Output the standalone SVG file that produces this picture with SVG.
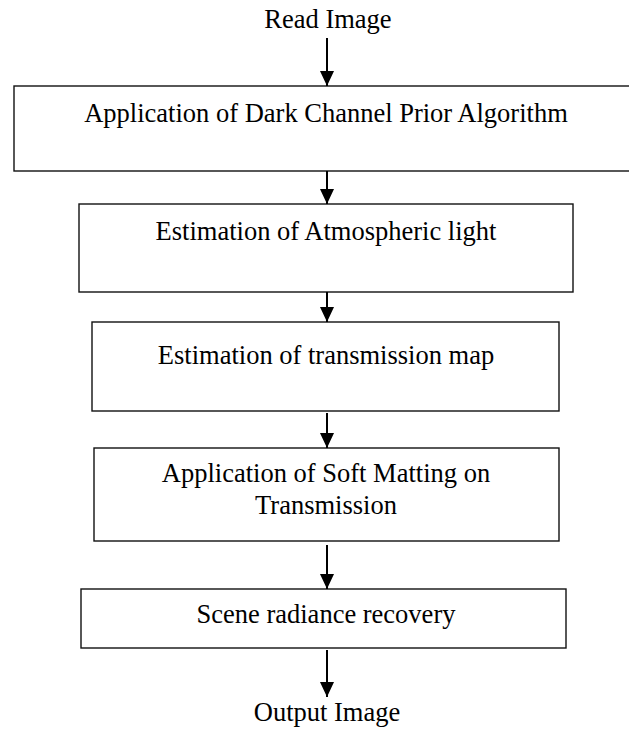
<svg xmlns="http://www.w3.org/2000/svg" width="629" height="729" viewBox="0 0 629 729">
<style>
.box{fill:#fff;stroke:#111;stroke-width:1.4}
.lbl{font-family:"Liberation Serif","Times New Roman",serif;font-size:26.5px;fill:#000;text-anchor:middle}
.con{stroke:#000;stroke-width:2;fill:none}
</style>
<defs>
<marker id="ah" markerUnits="userSpaceOnUse" markerWidth="16" markerHeight="16" refX="15" refY="7" orient="auto">
<path d="M0,0 L15,7 L0,14 Z" fill="#000"/>
</marker>
</defs>
<rect width="629" height="729" fill="#fff"/>
<g id="read-image"><text class="lbl" x="328" y="28">Read Image</text></g>
<g id="dark-channel"><rect class="box" x="14" y="86" width="616" height="85"/><text class="lbl" x="326" y="122">Application of Dark Channel Prior Algorithm</text></g>
<g id="atmospheric"><rect class="box" x="79" y="204" width="494" height="88"/><text class="lbl" x="326" y="240">Estimation of Atmospheric light</text></g>
<g id="transmission"><rect class="box" x="92" y="322" width="467" height="89"/><text class="lbl" x="326" y="364">Estimation of transmission map</text></g>
<g id="soft-matting"><rect class="box" x="94" y="448" width="465" height="93"/><text class="lbl" x="326" y="482">Application of Soft Matting on</text><text class="lbl" x="326" y="514">Transmission</text></g>
<g id="scene-radiance"><rect class="box" x="81" y="589" width="485" height="59"/><text class="lbl" x="326" y="623">Scene radiance recovery</text></g>
<g id="output-image"><text class="lbl" x="327" y="721">Output Image</text></g>
<g id="connectors">
<line class="con" x1="327" y1="38" x2="327" y2="86" marker-end="url(#ah)"/>
<line class="con" x1="327" y1="171" x2="327" y2="204" marker-end="url(#ah)"/>
<line class="con" x1="327" y1="292" x2="327" y2="322" marker-end="url(#ah)"/>
<line class="con" x1="327" y1="413" x2="327" y2="448" marker-end="url(#ah)"/>
<line class="con" x1="327" y1="545" x2="327" y2="589" marker-end="url(#ah)"/>
<line class="con" x1="327" y1="650" x2="327" y2="697" marker-end="url(#ah)"/>
</g>
</svg>
